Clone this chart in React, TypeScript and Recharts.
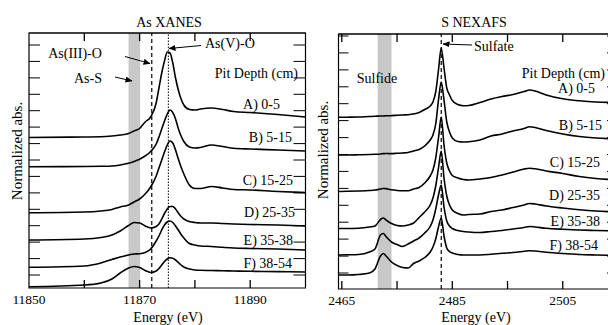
import React from 'react';
import { LineChart, Line, XAxis, YAxis, ReferenceArea, ReferenceLine } from 'recharts';

// As K-edge XANES, offset spectra (arbitrary units, pixels above the frame bottom)
const asEnergy = [11850, 11860, 11863, 11865, 11866.5, 11868, 11869, 11870, 11871, 11872, 11873, 11873.5, 11874, 11874.5, 11875, 11875.5, 11876, 11876.5, 11877, 11877.5, 11878, 11879, 11880, 11881, 11883, 11885, 11887, 11890, 11895, 11900];
const asA = [150.5, 151, 151.2, 152, 153, 154.5, 157, 159.5, 166, 171, 185, 200, 215, 227, 236, 235, 225, 210, 198, 189, 183, 178.5, 178, 179, 180, 178.5, 176.5, 175.5, 173.5, 171];
const asB = [121.3, 121.5, 121.7, 122, 123, 124.7, 126.5, 128.8, 132, 136.5, 144, 151, 159, 167, 174, 178, 175.5, 169, 159.5, 152, 146.5, 141, 140, 140.5, 143, 141.5, 139.7, 139, 138, 137];
const asC = [75.3, 76, 77, 78.5, 81, 83, 86, 89, 94, 101, 112, 120, 128, 136, 143, 147, 145, 138, 129, 121, 114, 103, 99.5, 99.5, 101.5, 100, 98.5, 98, 96.5, 95.5];
const asD = [48, 49, 50.5, 53, 57, 62.5, 65.5, 65, 62, 60, 61.5, 64, 69, 74.5, 79, 81.5, 81.5, 79, 75, 71.5, 69, 66.5, 65.5, 65, 65, 64.5, 64, 63.5, 63, 62];
const asE = [20.7, 22, 25, 28.5, 31, 33, 34, 34.3, 35.5, 39, 47, 52, 58, 63, 66, 67, 65.5, 62, 58, 53.5, 50, 44.5, 43, 42, 41.5, 40.7, 40, 39.5, 39, 38];
const asF = [1.3, 3, 5, 9, 15, 20, 21.5, 20.5, 17.5, 15.5, 17, 19.5, 23, 26.5, 29, 30.2, 29.7, 28, 25.5, 23, 21, 19, 18, 17.7, 17.5, 17.2, 17, 16.7, 16.4, 16];

// S K-edge NEXAFS
const sEnergy = [2464.4, 2466, 2468, 2470, 2471, 2472, 2472.5, 2473, 2473.5, 2474, 2475, 2476, 2477, 2478, 2479, 2480, 2481, 2481.5, 2482, 2482.5, 2483, 2483.5, 2484, 2484.5, 2485, 2486, 2487, 2488, 2490, 2492, 2494, 2496, 2498, 2499, 2500, 2502, 2505, 2508, 2511, 2515];
const sA = [171.7, 171.8, 172, 172.5, 172.7, 173, 173, 173.2, 173.2, 173.4, 173.7, 174, 174.3, 175, 176.5, 179.5, 183, 187, 197, 219, 241, 221, 201, 194, 188.5, 184.5, 183.3, 183.5, 186.5, 190, 192.5, 194.5, 197.5, 199, 198, 194, 190.2, 188.2, 187, 186.5];
const sB = [134, 134, 134.2, 134.5, 134.7, 135, 135.4, 135.5, 135.4, 135.4, 135.7, 136, 136.5, 138, 139.5, 143, 149, 154, 165, 189, 207, 189, 167, 157, 151, 147.5, 147, 147.3, 149, 153, 155, 158, 160.5, 162.3, 161.5, 158.5, 155, 152.5, 151, 150];
const sC = [97.5, 97.7, 98, 98.5, 99, 100, 100.5, 100.4, 99.8, 99.2, 98.5, 98.2, 98.2, 100, 101.5, 106, 113, 119, 131, 151, 172, 144, 126, 118, 113.5, 111, 109.5, 109, 110, 111.5, 114, 117, 120, 120.7, 120.2, 118, 115.5, 112.5, 110.5, 109];
const sD = [60.5, 60.5, 60.8, 62, 63, 69.5, 71, 69, 67, 65.5, 63.5, 63, 64, 66, 71.5, 77, 84, 91, 103, 121, 138, 111, 93, 84, 79, 75.5, 74, 74.5, 75, 77.5, 79, 81.5, 84, 85.5, 85, 83, 81, 79.3, 78, 77];
const sE = [34, 34.2, 34.5, 37, 40, 54, 55.5, 52.5, 49.5, 47, 44.5, 42.5, 45, 48, 51, 56, 62.5, 69, 80, 94, 104, 82, 68, 63, 60.5, 58.5, 57.5, 57, 56.5, 57.5, 58.5, 60, 61.5, 62.5, 62, 60.7, 59.7, 59, 58.5, 58];
const sF = [14, 14, 14.5, 16, 20, 33, 35.5, 33, 30, 27, 23.5, 21.5, 21, 25.5, 28, 31.5, 37, 42, 50, 62, 71, 53, 41, 37.5, 36, 34.5, 34, 34, 34, 34.7, 35.7, 36.5, 37.7, 38.3, 38, 36.8, 35.5, 34.5, 34, 33.5];

const seriesKeys = ['A', 'B', 'C', 'D', 'E', 'F'];
const depthLabels = ['A) 0-5', 'B) 5-15', 'C) 15-25', 'D) 25-35', 'E) 35-38', 'F) 38-54'];

const asLabelTicks = [11850, 11870, 11890];
const asMinorTicks = [11860, 11870, 11880, 11890];
const sLabelTicks = [2465, 2485, 2505];
const sMinorTicks = [2465, 2475, 2485, 2495, 2505];
const asYTicks = [13, 29.4, 45.9, 62.3, 78.7, 95.1, 111.6, 128, 144.4, 160.9, 177.3, 193.7, 210.1, 226.6, 243];
const sYTicks = [16, 32.9, 49.9, 66.8, 83.7, 100.6, 117.6, 134.5, 151.4, 168.4, 185.3, 202.2, 219.1, 236.1, 253];

const asData = asEnergy.map((e, i) => ({ e, A: asA[i], B: asB[i], C: asC[i], D: asD[i], E: asE[i], F: asF[i] }));
const sData = sEnergy.map((e, i) => ({ e, A: sA[i], B: sB[i], C: sC[i], D: sD[i], E: sE[i], F: sF[i] }));

const FONT = '"Liberation Serif", "Times New Roman", serif';
const Y_MAX = 255;

// tick lines only, no tick text
const NoText = () => <g />;
const blank = () => '';

interface PanelProps {
  data: any[];
  domain: [number, number];
  labelTicks: number[];
  minorTicks: number[];
  yTicks: number[];
  band: [number, number];
  margin: { top: number; right: number; bottom: number; left: number };
  leftTick: number;
  rightTick: number;
  children?: React.ReactNode;
}

const Panel = ({ data, domain, labelTicks, minorTicks, yTicks, band, margin, leftTick, rightTick, children }: PanelProps) => (
  <LineChart width={320} height={325} data={data} margin={margin}>
    <XAxis
      dataKey="e"
      type="number"
      domain={domain}
      ticks={labelTicks}
      interval={0}
      allowDataOverflow
      tickLine={false}
      axisLine={false}
      tickSize={0}
      tickMargin={6}
      height={30}
      tick={{ fill: '#000', fontSize: 13.5, fontFamily: FONT }}
    />
    <XAxis xAxisId="tp" orientation="top" dataKey="e" type="number" domain={domain} ticks={minorTicks} interval={0} allowDataOverflow mirror tickFormatter={blank} axisLine={{ stroke: '#000' }} tickSize={8} tickLine={{ stroke: '#000', strokeWidth: 1.3 }} />
    <XAxis xAxisId="bt" orientation="bottom" dataKey="e" type="number" domain={domain} ticks={minorTicks} interval={0} allowDataOverflow mirror tickFormatter={blank} axisLine={false} tickSize={8} tickLine={{ stroke: '#000', strokeWidth: 1.3 }} />
    <YAxis type="number" domain={[0, Y_MAX]} ticks={yTicks} interval={0} allowDataOverflow mirror tick={<NoText />} axisLine={false} tickSize={leftTick} tickLine={{ stroke: '#000' }} />
    <YAxis yAxisId="r" orientation="right" type="number" domain={[0, Y_MAX]} ticks={yTicks} interval={0} allowDataOverflow mirror tick={<NoText />} axisLine={false} tickSize={rightTick} tickLine={{ stroke: '#000' }} />
    <ReferenceArea x1={band[0]} x2={band[1]} y1={0} y2={Y_MAX} fill="#c8c8c8" fillOpacity={1} stroke="none" />
    {children}
    {seriesKeys.map((k) => (
      <Line key={k} dataKey={k} type="monotone" stroke="#000" strokeWidth={1.6} dot={false} activeDot={false} isAnimationActive={false} />
    ))}
    <ReferenceArea x1={domain[0]} x2={domain[1]} y1={0} y2={Y_MAX} fill="none" stroke="#000" strokeWidth={1.2} />
  </LineChart>
);

const txt = { fontSize: 14, fontFamily: FONT, fill: '#000' } as const;

export default function App() {
  const asLabelY = [104, 137, 180, 212, 240, 263];
  const asLabelX = [280, 292, 293, 295, 293, 292];
  const sLabelY = [88, 125, 162, 195, 221, 245];
  const sLabelX = [595, 602, 600, 600, 600, 598];
  return (
    <div style={{ position: 'absolute', left: 0, top: 0, width: 608, height: 325, overflow: 'hidden', background: '#fff', fontFamily: FONT }}>
      <div style={{ position: 'absolute', left: 0, top: 0 }}>
        <Panel
          data={asData}
          domain={[11850, 11900]}
          labelTicks={asLabelTicks}
          minorTicks={asMinorTicks}
          yTicks={asYTicks}
          band={[11868, 11870.1]}
          margin={{ top: 33, right: 14.5, bottom: 7, left: 29 }}
          leftTick={11}
          rightTick={12}
        >
          <ReferenceLine x={11872.2} stroke="#000" strokeWidth={1.2} strokeDasharray="4 3" />
          <ReferenceLine x={11875.2} stroke="#000" strokeWidth={1} strokeDasharray="1.5 1.5" />
        </Panel>
      </div>
      <div style={{ position: 'absolute', left: 310, top: 0 }}>
        <Panel
          data={sData}
          domain={[2464.4, 2515]}
          labelTicks={sLabelTicks}
          minorTicks={sMinorTicks}
          yTicks={sYTicks}
          band={[2471.5, 2474]}
          margin={{ top: 34, right: 12, bottom: 6, left: 28.5 }}
          leftTick={10}
          rightTick={11}
        >
          <ReferenceLine x={2483} stroke="#000" strokeWidth={1.2} strokeDasharray="4 3" />
        </Panel>
      </div>
      <svg width={608} height={325} style={{ position: 'absolute', left: 0, top: 0, pointerEvents: 'none' }}>
        <defs>
          <marker id="ah" markerWidth={7} markerHeight={6} refX={6.5} refY={3} orient="auto" markerUnits="userSpaceOnUse">
            <path d="M0,0 L7,3 L0,6 z" fill="#000" />
          </marker>
        </defs>
        {/* titles and axis names */}
        <text x={169} y={22} textAnchor="middle" dominantBaseline="central" {...txt}>As XANES</text>
        <text x={474} y={22} textAnchor="middle" dominantBaseline="central" {...txt}>S NEXAFS</text>
        <text x={168} y={317} textAnchor="middle" dominantBaseline="central" {...txt}>Energy (eV)</text>
        <text x={476} y={317} textAnchor="middle" dominantBaseline="central" {...txt}>Energy (eV)</text>
        <text transform="translate(17,151) rotate(-90)" textAnchor="middle" dominantBaseline="central" {...txt} fontSize={15}>Normalized abs.</text>
        <text transform="translate(323,150) rotate(-90)" textAnchor="middle" dominantBaseline="central" {...txt} fontSize={15}>Normalized abs.</text>

        {/* As annotations */}
        <text x={205} y={43} dominantBaseline="central" {...txt}>As(V)-O</text>
        <line x1={201} y1={45.5} x2={169} y2={48.5} stroke="#000" strokeWidth={1} markerEnd="url(#ah)" />
        <text x={75} y={53} textAnchor="middle" dominantBaseline="central" {...txt}>As(III)-O</text>
        <line x1={125} y1={56.5} x2={150} y2={63.5} stroke="#000" strokeWidth={1} markerEnd="url(#ah)" />
        <text x={88} y={78} textAnchor="middle" dominantBaseline="central" {...txt}>As-S</text>
        <line x1={115} y1={77} x2={132} y2={81} stroke="#000" strokeWidth={1} markerEnd="url(#ah)" />
        <text x={298} y={73} textAnchor="end" dominantBaseline="central" {...txt}>Pit Depth (cm)</text>
        {depthLabels.map((l, i) => (
          <text key={'as' + l} x={asLabelX[i]} y={asLabelY[i]} textAnchor="end" dominantBaseline="central" {...txt}>{l}</text>
        ))}

        {/* S annotations */}
        <text x={474} y={46} dominantBaseline="central" {...txt}>Sulfate</text>
        <line x1={472} y1={45} x2={443} y2={44} stroke="#000" strokeWidth={1} markerEnd="url(#ah)" />
        <text x={377} y={78} textAnchor="middle" dominantBaseline="central" {...txt}>Sulfide</text>
        <text x={605} y={73} textAnchor="end" dominantBaseline="central" {...txt}>Pit Depth (cm)</text>
        {depthLabels.map((l, i) => (
          <text key={'s' + l} x={sLabelX[i]} y={sLabelY[i]} textAnchor="end" dominantBaseline="central" {...txt}>{l}</text>
        ))}
      </svg>
    </div>
  );
}
